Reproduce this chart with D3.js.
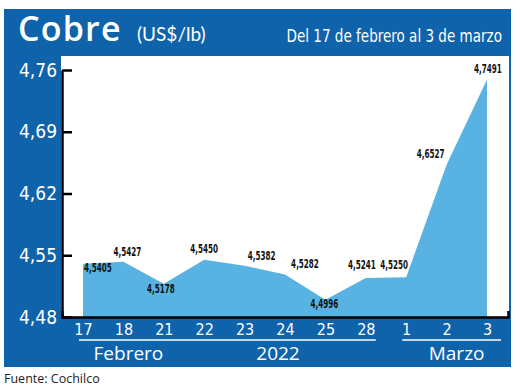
<!DOCTYPE html>
<html>
<head>
<meta charset="utf-8">
<script src="https://cdn.jsdelivr.net/npm/d3@7"></script>
<style>
  body { margin: 0; background: #fff; }
  svg { display: block; }
  .narrow { font-family: "DejaVu Sans Condensed", sans-serif; }
</style>
</head>
<body>
<script>
// datos: precio del cobre (US$/lb)
const days = ["17", "18", "21", "22", "23", "24", "25", "28", "1", "2", "3"];
const prices = [4.5405, 4.5427, 4.5178, 4.5450, 4.5382, 4.5282, 4.4996, 4.5241, 4.5250, 4.6527, 4.7491];
const priceLabels = ["4,5405", "4,5427", "4,5178", "4,5450", "4,5382", "4,5282", "4,4996", "4,5241", "4,5250", "4,6527", "4,7491"];
const yTicks = [4.48, 4.55, 4.62, 4.69, 4.76];
const months = [
  { name: "Febrero", from: "17", to: "28" },
  { name: "Marzo", from: "1", to: "3" }
];

// label placement (offsets from the point)
const labelPos = [
  { dx: 1, dy: 8, anchor: "start" },
  { dx: 4, dy: -6, anchor: "middle" },
  { dx: -3, dy: 9, anchor: "middle" },
  { dx: 0, dy: -7, anchor: "middle" },
  { dx: 17, dy: -6, anchor: "middle" },
  { dx: 20, dy: -6, anchor: "middle" },
  { dx: -1, dy: 8, anchor: "middle" },
  { dx: -4, dy: -9, anchor: "middle" },
  { dx: -12, dy: -8, anchor: "middle" },
  { dx: -2, dy: -7, anchor: "end" },
  { dx: 1, dy: -7, anchor: "middle" }
];

const W = 520, H = 389;
const blue = "#0f63ab", areaBlue = "#58b3e3";

const svg = d3.select("body").append("svg").attr("width", W).attr("height", H);

// frame
svg.append("rect").attr("x", 4).attr("y", 9).attr("width", 507).attr("height", 358).attr("fill", blue);
svg.append("rect").attr("x", 61).attr("y", 56).attr("width", 448).attr("height", 261).attr("fill", "#fff");

// header
svg.append("text").attr("x", 18).attr("y", 41)
  .attr("fill", "#fff").attr("font-family", "\"Open Sans\", sans-serif").attr("font-weight", 600)
  .attr("font-size", 34).attr("letter-spacing", 1.2).text("Cobre");
svg.append("text").attr("x", 137).attr("y", 41)
  .attr("fill", "#fff").attr("font-family", "Lato, sans-serif")
  .attr("font-size", 19).text("(US$/lb)");
svg.append("text").attr("class", "narrow")
  .attr("transform", "translate(502,42) scale(0.86,1)")
  .attr("fill", "#fff").attr("text-anchor", "end")
  .attr("font-size", 17.5).text("Del 17 de febrero al 3 de marzo");

const x = d3.scalePoint().domain(days).range([62, 508]).padding(0.52);
const y = d3.scaleLinear().domain([4.48, 4.76]).range([317, 70]);

const data = days.map((d, i) => ({ day: d, v: prices[i], label: priceLabels[i], pos: labelPos[i] }));

const area = d3.area()
  .x(d => x(d.day))
  .y0(y(4.48))
  .y1(d => y(d.v));

svg.append("path").datum(data).attr("d", area).attr("fill", areaBlue);

// y axis
const yAxis = d3.axisLeft(y).tickValues(yTicks)
  .tickFormat(d => d3.format(".2f")(d).replace(".", ","))
  .tickSizeInner(-10).tickSizeOuter(0).tickPadding(5);
const gy = svg.append("g").attr("transform", "translate(62,0)").call(yAxis);
gy.select(".domain").attr("stroke", "#000").attr("stroke-width", 2.5);
gy.selectAll(".tick line").attr("stroke", "#000").attr("stroke-width", 2.5);
gy.selectAll(".tick text").attr("fill", "#fff").attr("font-size", 19)
  .attr("font-family", "\"DejaVu Sans Condensed\", sans-serif");

// x axis
const xAxis = d3.axisBottom(x).tickSizeInner(0).tickSizeOuter(-6).tickPadding(7);
const gx = svg.append("g").attr("transform", "translate(0,317)").call(xAxis);
gx.select(".domain").attr("stroke", "#000").attr("stroke-width", 2.5);
gx.selectAll(".tick text").attr("fill", "#fff").attr("font-size", 16)
  .attr("font-family", "\"DejaVu Sans Condensed\", sans-serif");

// value labels
svg.append("g").selectAll("text").data(data).enter().append("text")
  .attr("class", "narrow")
  .attr("transform", d => `translate(${x(d.day) + d.pos.dx},${y(d.v) + d.pos.dy}) scale(0.64,1)`)
  .attr("text-anchor", d => d.pos.anchor)
  .attr("font-size", 12.5).attr("font-weight", "bold").attr("fill", "#111")
  .text(d => d.label);

// month brackets
const mg = svg.append("g");
months.forEach(m => {
  const x0 = x(m.from) - 4, x1 = x(m.to) + (m.name === "Marzo" ? 14 : 10);
  mg.append("line").attr("x1", x0).attr("x2", x1).attr("y1", 340).attr("y2", 340)
    .attr("stroke", "#fff").attr("stroke-width", 1.5);
});
mg.append("text").attr("x", x("18") + 5).attr("y", 360).attr("text-anchor", "middle")
  .attr("fill", "#fff").attr("font-family", "\"Open Sans\", sans-serif").attr("font-size", 19).text("Febrero");
mg.append("text").attr("x", x("24") - 7).attr("y", 360).attr("text-anchor", "middle")
  .attr("fill", "#fff").attr("font-family", "\"Open Sans\", sans-serif").attr("font-size", 19).text("2022");
mg.append("text").attr("x", x("2") + 10).attr("y", 360).attr("text-anchor", "middle")
  .attr("fill", "#fff").attr("font-family", "\"Open Sans\", sans-serif").attr("font-size", 19).text("Marzo");

// source
svg.append("text").attr("x", 4).attr("y", 383)
  .attr("fill", "#222").attr("font-family", "\"Open Sans\", sans-serif").attr("font-size", 12.5)
  .text("Fuente: Cochilco");
</script>
</body>
</html>
